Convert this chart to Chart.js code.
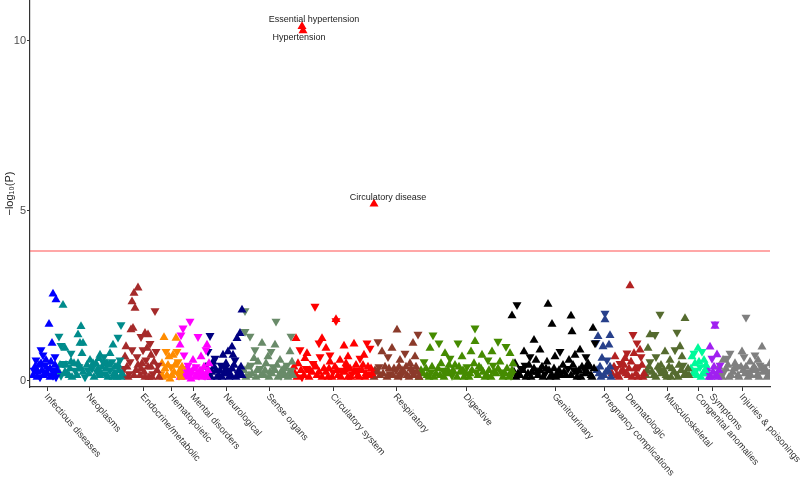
<!DOCTYPE html>
<html>
<head>
<meta charset="utf-8">
<script src="https://cdn.jsdelivr.net/npm/chart.js@4"></script>
<style>
    html, body { margin: 0; padding: 0; background: #fff; }
    #wrap { width: 800px; height: 479px; position: relative; }
</style>
</head>
<body>
<div id="wrap"><canvas id="phewas"></canvas></div>
<script>
// Phenotype groups, in plot order
const categories = [
    'Infectious diseases', 'Neoplasms', 'Endocrine/metabolic', 'Hematopoietic',
    'Mental disorders', 'Neurological', 'Sense organs', 'Circulatory system',
    'Respiratory', 'Digestive', 'Genitourinary', 'Pregnancy complications',
    'Dermatologic', 'Musculoskeletal', 'Congenital anomalies', 'Symptoms',
    'Injuries & poisonings'
];

// Where each group label sits along the phenotype axis
const categoryTicks = [17, 59, 113, 141, 163, 196, 239, 303, 366, 436, 525, 574, 598, 637, 668, 682, 712];

const categoryColors = [
    '#0000ff', '#008b8b', '#a52a2a', '#ff8c00', '#ff00ff', '#000080', '#698b69', '#ff0000',
    '#8b3a2a', '#458b00', '#000000', '#27408b', '#b22222', '#556b2f', '#00fa9a', '#a020f0',
    '#7f7f7f'
];

// [position, -log10(P), direction] ; direction 1 = positive effect (up), 0 = negative (down)
const infectious = [
    [3,0.15,1],[5,0.4,1],[6,0.6,0],[8,0.25,1],[11,0.9,0],[10,0.1,0],[11,0.5,1],[12,0.3,1],[13,0.75,0],
    [14,0.15,1],[15,0.45,0],[16,0.6,1],[17,0.2,1],[18,0.35,0],[22,1.1,1],[19,1.66,1],[20,0.1,1],
    [21,0.55,1],[22,0.3,0],[23,2.55,1],[24,0.2,1],[25,0.45,1],[26,2.38,1],[26,0.1,0],[27,0.3,1],
    [4,0.3,0],[7,0.1,1],[9,0.45,1],[15,0.2,1],[20,0.35,1],[23,0.15,0],[25,0.7,0]
];
const neoplasms = [
    [33,2.22,1],[51,1.59,1],[29,1.3,0],[48,1.35,1],[31,1.03,0],[35,0.95,1],[50,1.1,1],[53,1.1,1],
    [41,0.8,0],[52,0.8,1],[41,0.55,1],[48,0.5,1],[36,0.45,1],[91,1.64,0],[88,1.27,0],[83,1.05,1],
    [80,0.8,1],[28,0.3,1],[31,0.15,0],[34,0.5,0],[37,0.2,1],[40,0.35,1],[42,0.1,1],[45,0.3,0],
    [47,0.15,1],[49,0.4,0],[53,0.25,1],[55,0.1,0],[57,0.45,1],[59,0.2,1],[60,0.6,1],[62,0.35,0],
    [64,0.1,1],[66,0.5,1],[67,0.25,0],[69,0.65,1],[70,0.15,1],[72,0.4,1],[74,0.7,0],[75,0.2,0],
    [77,0.5,1],[78,0.1,1],[80,0.3,0],[82,0.55,0],[84,0.2,1],[85,0.4,1],[87,0.1,1],[89,0.3,1],
    [90,0.6,0],[92,0.2,1],[70,0.75,1],[73,0.55,0],[76,0.35,1],
    [30,0.45,1],[35,0.25,1],[39,0.15,1],[44,0.5,1],[51,0.35,1],[58,0.3,0],[63,0.5,1],[68,0.35,1],
    [71,0.2,1],[79,0.45,1],[83,0.1,1],[86,0.25,0],[88,0.45,1],[91,0.1,1]
];
const endocrine = [
    [108,2.73,1],[104,2.57,1],[102,2.32,1],[105,2.13,1],[125,2.05,0],[103,1.54,1],[101,1.5,1],
    [115,1.39,1],[111,1.29,0],[118,1.35,1],[120,1.09,0],[117,0.95,1],[126,0.85,0],[95,0.7,1],
    [97,0.4,1],[93,0.15,1],[99,0.2,0],[100,0.55,0],[106,0.3,1],[107,0.7,0],[110,0.15,1],
    [112,0.5,1],[113,0.9,0],[114,0.25,1],[116,0.6,0],[119,0.1,1],[121,0.4,1],[123,0.2,0],
    [124,0.55,1],[127,0.3,1],[129,0.1,1],[96,1.0,1],[102,0.9,0],[121,0.75,1],
    [94,0.35,0],[98,0.1,1],[104,0.15,1],[108,0.45,1],[111,0.35,1],[115,0.1,1],[118,0.4,1],
    [122,0.1,1],[128,0.45,0]
];
const hematopoietic = [
    [134,1.27,1],[146,1.25,1],[136,0.85,0],[139,0.7,1],[132,0.5,1],[141,0.4,0],[137,0.15,1],
    [144,0.25,1],[148,0.55,0],[150,0.3,1],[131,0.2,0],[143,0.75,1],[151,0.1,1],[135,0.35,1],
    [147,0.85,0],[140,0.05,1],[133,0.1,1],[138,0.45,1],[142,0.15,1],[145,0.45,1],[149,0.15,0],
    [152,0.4,1]
];
const mental = [
    [160,1.74,0],[153,1.54,0],[151,1.34,0],[168,1.29,0],[150,1.05,1],[177,1.05,1],[176,0.9,0],
    [163,0.6,1],[158,0.45,0],[171,0.7,1],[174,0.4,1],[155,0.2,1],[157,0.1,1],[160,0.15,0],
    [162,0.25,1],[165,0.1,1],[167,0.2,1],[169,0.15,0],[172,0.1,1],[178,0.3,1],[152,0.25,1],
    [164,0.35,1],[154,0.75,0],[150,0.1,1],[153,0.15,1],[156,0.35,0],[159,0.3,1],[161,0.05,1],
    [166,0.4,0],[170,0.3,1],[173,0.2,1],[175,0.15,0],[177,0.1,1],[179,0.5,1]
];
const neurological = [
    [212,2.08,1],[180,1.32,0],[210,1.39,1],[207,1.24,1],[202,0.99,1],[198,0.85,1],[203,0.75,1],
    [205,0.6,0],[178,0.85,0],[183,0.55,1],[186,0.3,1],[189,0.15,1],[191,0.45,0],[194,0.2,1],
    [196,0.5,1],[199,0.1,1],[202,0.35,1],[208,0.2,0],[211,0.4,1],[176,0.4,1],[181,0.1,1],
    [185,0.65,0],[193,0.75,1],[200,0.3,0],[177,0.15,1],[179,0.3,0],[182,0.25,1],[184,0.4,1],
    [187,0.1,1],[190,0.3,1],[192,0.1,1],[195,0.35,0],[197,0.2,1],[201,0.15,1],[204,0.45,1],
    [206,0.1,1],[209,0.3,1],[212,0.15,1]
];
const senseOrgans = [
    [215,2.05,0],[246,1.74,0],[215,1.44,0],[220,1.3,0],[261,1.3,0],[232,1.1,1],[245,1.05,1],
    [225,0.9,0],[260,0.85,1],[238,0.7,1],[228,0.55,1],[218,0.4,1],[222,0.2,1],[226,0.1,1],
    [230,0.35,0],[234,0.15,1],[236,0.5,1],[240,0.25,1],[243,0.4,0],[248,0.1,1],[250,0.6,1],
    [252,0.3,1],[255,0.15,1],[257,0.45,0],[259,0.2,1],[262,0.55,1],[224,0.65,1],[241,0.85,0],
    [216,0.1,1],[214,0.3,1],[219,0.15,1],[221,0.45,0],[227,0.3,1],[231,0.15,1],[235,0.3,1],
    [239,0.1,1],[242,0.2,1],[245,0.3,1],[247,0.45,1],[251,0.15,0],[254,0.35,1],[258,0.1,1],
    [261,0.3,0],[263,0.15,1]
];
const circulatory = [
    [272,10.42,1],[273,10.3,1],[344,5.2,1],
    [285,2.18,0],[306,1.8,1],[306,1.76,0],[266,1.24,1],[292,1.24,1],[289,1.1,0],[314,1.02,1],
    [324,1.08,1],[337,1.1,0],[340,0.95,0],[296,0.95,1],[270,0.9,0],[275,0.65,1],[280,0.3,1],
    [283,0.5,0],[287,0.15,1],[290,0.7,0],[294,0.35,1],[298,0.1,1],[300,0.55,1],[303,0.25,0],
    [305,0.4,1],[308,0.15,1],[310,0.6,1],[312,0.3,0],[316,0.5,1],[318,0.1,1],[320,0.35,1],
    [322,0.2,0],[326,0.45,1],[328,0.15,1],[330,0.65,0],[332,0.3,1],[335,0.1,1],[338,0.4,1],
    [342,0.2,1],[265,0.2,1],[268,0.5,1],[272,0.1,0],[277,0.8,1],[300,0.75,0],[318,0.7,1],
    [334,0.75,1],[264,0.4,1],[267,0.1,1],[271,0.3,1],[274,0.15,1],[276,0.35,0],[279,0.1,1],
    [282,0.25,1],[286,0.4,1],[289,0.25,1],[292,0.1,1],[296,0.25,1],[299,0.35,1],[302,0.1,1],
    [307,0.3,1],[311,0.1,1],[314,0.25,1],[317,0.35,0],[321,0.1,1],[324,0.25,1],[327,0.3,0],
    [329,0.1,1],[333,0.45,1],[336,0.2,1],[339,0.15,1],[341,0.35,1]
];
const respiratory = [
    [367,1.49,1],[388,1.36,0],[348,1.14,0],[383,1.1,1],[352,0.85,1],[358,0.7,0],[362,0.95,1],
    [370,0.6,1],[375,0.8,0],[380,0.5,1],[385,0.7,1],[345,0.3,1],[350,0.15,1],[355,0.4,1],
    [360,0.2,0],[364,0.35,1],[368,0.1,1],[372,0.3,1],[377,0.15,1],[382,0.25,0],[386,0.4,1],
    [389,0.1,1],[344,0.1,1],[347,0.25,1],[349,0.4,0],[353,0.2,1],[357,0.1,1],[359,0.35,1],
    [363,0.15,1],[366,0.3,0],[369,0.4,1],[371,0.15,0],[374,0.25,1],[376,0.4,1],[379,0.1,1],
    [381,0.35,1],[384,0.15,1],[387,0.25,1]
];
const digestive = [
    [445,1.54,0],[403,1.34,0],[445,1.15,1],[409,1.1,0],[400,0.95,1],[428,1.1,0],[468,1.15,0],
    [476,1.0,0],[441,0.85,1],[415,0.8,1],[420,0.65,0],[432,0.7,1],[452,0.75,1],[458,0.6,0],
    [462,0.85,1],[480,0.8,1],[391,0.3,1],[394,0.55,0],[397,0.15,1],[402,0.4,1],[406,0.2,1],
    [411,0.5,1],[414,0.1,1],[418,0.3,1],[422,0.15,0],[425,0.45,1],[430,0.25,1],[434,0.1,1],
    [437,0.4,0],[440,0.2,1],[444,0.5,1],[448,0.15,1],[451,0.35,1],[455,0.1,1],[459,0.3,1],
    [463,0.45,0],[466,0.2,1],[470,0.55,1],[473,0.1,1],[477,0.35,1],[481,0.15,0],[483,0.5,1],
    [389,0.1,1],[393,0.2,1],[396,0.35,1],[399,0.1,1],[401,0.25,0],[404,0.1,1],[408,0.35,1],
    [410,0.15,1],[413,0.3,0],[416,0.2,1],[419,0.45,1],[423,0.3,1],[427,0.1,1],[429,0.4,1],
    [433,0.3,1],[436,0.2,1],[439,0.1,1],[442,0.3,1],[446,0.25,0],[449,0.4,1],[453,0.25,1],
    [457,0.15,1],[461,0.1,1],[464,0.25,1],[468,0.35,1],[471,0.25,0],[475,0.2,1],[479,0.1,1],
    [482,0.3,1]
];
const genitourinary = [
    [487,2.23,0],[482,1.91,1],[518,2.25,1],[541,1.9,1],[522,1.66,1],[542,1.44,1],[563,1.54,1],
    [565,1.1,0],[504,1.19,1],[494,0.85,1],[510,0.9,1],[530,0.85,0],[550,0.9,1],[556,0.7,0],
    [485,0.5,1],[488,0.2,1],[491,0.35,0],[496,0.1,1],[499,0.45,1],[502,0.25,1],[506,0.6,1],
    [508,0.15,1],[512,0.4,1],[515,0.2,0],[517,0.55,1],[520,0.1,1],[524,0.35,1],[527,0.2,1],
    [533,0.45,1],[536,0.15,1],[539,0.6,1],[544,0.3,0],[547,0.1,1],[552,0.4,1],[555,0.2,1],
    [558,0.5,1],[561,0.15,1],[564,0.35,1],[525,0.7,1],[545,0.75,1],[500,0.7,0],
    [484,0.25,1],[486,0.1,1],[490,0.15,1],[493,0.3,1],[495,0.45,0],[498,0.2,1],[501,0.1,1],
    [504,0.35,1],[507,0.25,1],[510,0.3,1],[513,0.1,1],[516,0.35,1],[519,0.3,1],[522,0.15,1],
    [526,0.1,1],[529,0.3,1],[531,0.15,1],[534,0.25,1],[538,0.35,0],[541,0.15,1],[543,0.45,1],
    [546,0.25,1],[549,0.3,1],[551,0.1,1],[554,0.35,0],[557,0.25,1],[560,0.4,1],[562,0.1,1]
];
const pregnancy = [
    [575,1.98,0],[575,1.79,1],[580,1.33,1],[568,1.3,1],[566,1.12,0],[573,1.0,1],[579,1.05,1],
    [572,0.66,1],[577,0.6,0],[570,0.4,1],[574,0.15,1],[578,0.3,1],[581,0.1,1],[569,0.2,1],
    [567,0.3,1],[571,0.1,1],[576,0.25,1],[580,0.4,1]
];
const dermatologic = [
    [600,2.79,1],[603,1.35,0],[607,1.1,0],[610,0.9,1],[597,0.81,0],[585,0.7,1],[590,0.5,0],
    [593,0.3,1],[598,0.15,1],[601,0.55,1],[605,0.35,1],[608,0.1,1],[612,0.45,1],[614,0.2,1],
    [587,0.15,1],[595,0.65,1],[604,0.8,1],[611,0.7,0],[582,0.2,1],[584,0.4,1],[586,0.35,0],
    [589,0.1,1],[591,0.25,1],[594,0.45,1],[596,0.2,1],[599,0.35,1],[602,0.1,1],[606,0.2,1],
    [609,0.4,0],[613,0.1,1]
];
const musculoskeletal = [
    [630,1.95,0],[655,1.83,1],[620,1.35,1],[625,1.35,0],[647,1.42,0],[618,0.95,1],[635,0.85,1],
    [645,0.9,0],[652,0.7,1],[640,0.6,1],[617,0.3,1],[620,0.55,0],[624,0.15,1],[628,0.4,1],
    [632,0.2,1],[637,0.1,1],[642,0.35,1],[646,0.2,0],[649,0.45,1],[654,0.15,1],[658,0.35,1],
    [626,0.7,0],[650,1.0,1],[616,0.15,1],[619,0.4,1],[622,0.25,1],[626,0.1,1],[629,0.3,0],
    [631,0.45,1],[634,0.3,1],[636,0.15,1],[639,0.4,1],[641,0.1,1],[644,0.25,1],[648,0.1,1],
    [651,0.3,1],[653,0.45,0],[656,0.2,1],[659,0.15,1]
];
const congenital = [
    [668,0.95,1],[672,0.85,0],[662,0.7,1],[665,0.5,1],[670,0.4,0],[674,0.6,1],[663,0.2,1],
    [667,0.15,1],[671,0.1,1],[675,0.3,1],[664,0.8,0],[661,0.35,1],[666,0.3,0],[669,0.55,1],
    [673,0.2,1],[676,0.45,1]
];
const symptoms = [
    [685,1.66,0],[685,1.6,1],[680,0.99,1],[687,0.76,1],[682,0.65,0],[684,0.4,1],[678,0.2,1],
    [686,0.15,1],[689,0.3,1],[681,0.1,1],[677,0.35,1],[679,0.1,1],[683,0.25,1],[688,0.1,1],
    [690,0.45,0]
];
const injuries = [
    [716,1.86,0],[732,0.99,1],[700,0.8,0],[712,0.85,1],[725,0.75,0],[693,0.6,1],[705,0.5,1],
    [720,0.55,1],[730,0.45,0],[740,0.5,1],[690,0.2,1],[696,0.35,1],[699,0.1,1],[703,0.25,1],
    [708,0.15,1],[711,0.4,1],[715,0.2,1],[718,0.1,1],[722,0.3,1],[727,0.15,1],[733,0.25,1],
    [737,0.1,1],[742,0.3,1],[697,0.65,0],[714,0.7,0],[728,0.6,1],[689,0.4,1],[692,0.1,1],
    [694,0.25,0],[698,0.45,1],[701,0.15,1],[704,0.35,1],[707,0.4,0],[709,0.1,1],[713,0.3,1],
    [716,0.4,1],[719,0.25,0],[721,0.15,1],[724,0.4,1],[726,0.3,1],[729,0.1,1],[731,0.35,1],
    [734,0.4,0],[736,0.3,1],[739,0.2,1],[741,0.15,1],[743,0.45,1]
];

const groupData = [
    infectious, neoplasms, endocrine, hematopoietic, mental, neurological, senseOrgans,
    circulatory, respiratory, digestive, genitourinary, pregnancy, dermatologic,
    musculoskeletal, congenital, symptoms, injuries
];

// Bonferroni-style significance line
const threshold = 3.81;

// Named phenotypes: [group index, point index, name]
const annotated = [
    [7, 0, 'Essential hypertension'],
    [7, 1, 'Hypertension'],
    [7, 2, 'Circulatory disease']
];
const annotationOffsets = [[12, -7], [-4, 6.5], [14, -6]];

const FONT = '"Liberation Sans", Arial, Helvetica, sans-serif';

const datasets = groupData.map((pts, i) => ({
    type: 'scatter',
    label: categories[i],
    data: pts,
    pointStyle: 'triangle',
    pointRadius: 5.2,
    pointHoverRadius: 5.2,
    pointBorderWidth: 0,
    backgroundColor: categoryColors[i],
    borderColor: categoryColors[i],
    rotation: c => (c.raw && c.raw[2] === 0 ? 180 : 0)
}));

datasets.unshift({
    type: 'line',
    label: 'threshold',
    data: [[0, threshold], [740, threshold]],
    borderColor: 'rgba(255, 60, 60, 0.45)',
    borderWidth: 2,
    pointRadius: 0,
    order: 100
});

const labelPlugin = {
    id: 'phewasLabels',
    afterDraw(chart) {
        const ctx = chart.ctx;
        const xs = chart.scales.x;
        const ys = chart.scales.y;

        // rotated group names under the axis
        ctx.save();
        ctx.fillStyle = '#333';
        ctx.font = '9.5px ' + FONT;
        ctx.textAlign = 'left';
        ctx.textBaseline = 'middle';
        categories.forEach((name, i) => {
            const px = xs.getPixelForValue(categoryTicks[i]);
            ctx.save();
            ctx.translate(px - 1, ys.bottom + 8);
            ctx.rotate(49 * Math.PI / 180);
            ctx.fillText(name, 0, 0);
            ctx.restore();
        });
        ctx.restore();

        // names of significant phenotypes
        ctx.save();
        ctx.fillStyle = '#222';
        ctx.font = '9px ' + FONT;
        ctx.textAlign = 'center';
        ctx.textBaseline = 'middle';
        annotated.forEach((a, i) => {
            const p = groupData[a[0]][a[1]];
            const px = xs.getPixelForValue(p[0]) + annotationOffsets[i][0];
            const py = ys.getPixelForValue(p[1]) + annotationOffsets[i][1];
            ctx.fillText(a[2], px, py);
        });
        ctx.restore();
    }
};

new Chart(document.getElementById('phewas'), {
    type: 'scatter',
    data: { datasets },
    options: {
        responsive: true,
        maintainAspectRatio: false,
        animation: false,
        layout: { autoPadding: false, padding: { left: 0, right: 30, top: 0, bottom: 88 } },
        plugins: {
            legend: { display: false },
            tooltip: { enabled: false }
        },
        scales: {
            x: {
                type: 'linear',
                min: 0,
                max: 740,
                afterBuildTicks: s => { s.ticks = categoryTicks.map(v => ({ value: v })); },
                ticks: { display: false },
                grid: { drawOnChartArea: false, drawTicks: true, tickLength: 4, color: '#333', lineWidth: 1 },
                border: { display: true, color: '#333', width: 1.2 }
            },
            y: {
                type: 'linear',
                min: -0.19,
                max: 11.2,
                afterBuildTicks: s => { s.ticks = [0, 5, 10].map(v => ({ value: v })); },
                afterFit: s => { s.width = 30; s.paddingTop = 0; s.paddingBottom = 0; },
                // tiny line height keeps the tick labels from padding the plot area
                ticks: { color: '#4d4d4d', font: { family: FONT, size: 11, lineHeight: 0.05 }, padding: 1 },
                grid: { drawOnChartArea: false, drawTicks: true, tickLength: 3, color: '#333' },
                border: { display: true, color: '#333', width: 1.2 },
                title: {
                    display: true,
                    text: '\u2212log\u2081\u2080(P)',
                    color: '#222',
                    font: { family: FONT, size: 11 },
                    padding: { top: 3, bottom: 0 }
                }
            }
        }
    },
    plugins: [labelPlugin]
});
</script>
</body>
</html>
